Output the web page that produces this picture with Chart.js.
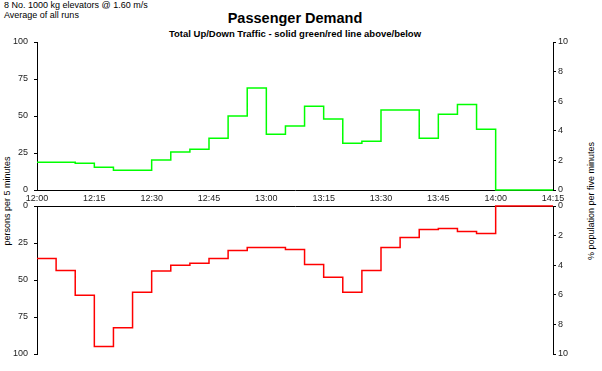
<!DOCTYPE html>
<html>
<head>
<meta charset="utf-8">
<script src="https://cdn.jsdelivr.net/npm/chart.js@4.4.0/dist/chart.umd.min.js"></script>
<style>
  body { margin: 0; background: #fff; }
  #wrap { position: relative; width: 602px; height: 371px; font-family: "Liberation Sans", Arial, sans-serif; color: #000; }
  canvas { position: absolute; left: 0; top: 0; }
  .txt { position: absolute; white-space: nowrap; }
  .rot { transform: translate(-50%, -50%) rotate(-90deg); }
</style>
</head>
<body>
<div id="wrap">
  <div class="txt" style="left:4px;top:0px;font-size:9px;line-height:10px">8 No. 1000 kg elevators @ 1.60 m/s<br>Average of all runs</div>
  <div class="txt" style="left:295px;top:10px;transform:translateX(-50%);font-size:14.5px;font-weight:bold">Passenger Demand</div>
  <div class="txt" style="left:295px;top:28px;transform:translateX(-50%);font-size:9.5px;font-weight:bold">Total Up/Down Traffic - solid green/red line above/below</div>
  <div class="txt rot" style="left:7px;top:201px;font-size:9px">persons per 5 minutes</div>
  <div class="txt rot" style="left:591px;top:201px;font-size:9px">% population per five minutes</div>
  <canvas id="upChart" width="602" height="371"></canvas>
  <canvas id="downChart" width="602" height="371"></canvas>
</div>
<script>
// 5-minute intervals starting 12:00 (minutes after 12:00)
const starts = [0, 5, 10, 15, 20, 25, 30, 35, 40, 45, 50, 55, 60, 65, 70, 75, 80, 85, 90, 95, 100, 105, 110, 115, 120, 125, 130];
// persons per 5 minutes
const upTraffic = [18.7, 18.7, 18, 15.3, 13.3, 13.3, 20.3, 25.7, 27.6, 35, 50, 69, 37.7, 43.3, 56.6, 47.9, 31.6, 33, 54, 54, 35, 51.2, 57.8, 41, 0, 0, 0];
const downTraffic = [35.4, 43.5, 60.3, 95, 82.3, 58.3, 44, 40.1, 38.6, 35.4, 30, 28, 28, 29.4, 39.5, 48.2, 58.3, 43.5, 28, 21.3, 15.9, 15.2, 17.3, 18.6, 0, 0, 0];
const endMinute = 135;
const personTicks = [0, 25, 50, 75, 100];
const percentTicks = [0, 2, 4, 6, 8, 10];

Chart.defaults.font.family = "'Liberation Sans', Arial, sans-serif";
Chart.defaults.font.size = 9;
Chart.defaults.color = "#000";

// step points: each interval value held until the next start
function stepPoints(vals) {
  const pts = starts.map((m, i) => ({ x: m, y: vals[i] }));
  pts.push({ x: endMinute, y: vals[vals.length - 1] });
  return pts;
}

function timeLabel(v) {
  const h = 12 + Math.floor(v / 60);
  const m = v % 60;
  return h + ":" + String(m).padStart(2, "0");
}

function yScale(pos, max, reverse, width) {
  return {
    type: "linear",
    position: pos,
    min: 0,
    max: max,
    reverse: reverse,
    afterFit: (s) => { s.width = width; },
    afterBuildTicks: (s) => {
      s.ticks = (max === 100 ? personTicks : percentTicks).map((v) => ({ value: v }));
    },
    grid: { display: true, drawOnChartArea: false, tickLength: 3, color: "#000" },
    border: { display: true, color: "#000", width: 1 },
    ticks: { padding: pos === "left" ? 6 : 2, color: "#222" },
  };
}

function makeChart(id, vals, colour, top) {
  const ctx = document.getElementById(id).getContext("2d");
  return new Chart(ctx, {
    type: "line",
    data: {
      datasets: [
        {
          data: stepPoints(vals),
          stepped: true,
          borderColor: colour,
          borderWidth: 1.5,
          pointRadius: 0,
          fill: false,
          clip: 4,
          yAxisID: "y",
        },
      ],
    },
    options: {
      responsive: false,
      animation: false,
      devicePixelRatio: 1,
      layout: { padding: top ? { top: 42, left: 0, right: 0, bottom: 0 } : { top: 0, left: 0, right: 0, bottom: 17 } },
      plugins: { legend: { display: false }, tooltip: { enabled: false } },
      scales: {
        x: {
          type: "linear",
          position: top ? "bottom" : "top",
          min: 0,
          max: endMinute,
          afterFit: (s) => { s.height = top ? 371 - 190 : 206; },
          grid: { display: false, drawTicks: false },
          border: { display: true, color: "#000", width: 1 },
          ticks: {
            display: top,
            stepSize: 15,
            maxRotation: 0,
            autoSkip: false,
            padding: 3,
            color: "#222",
            callback: (v) => timeLabel(v),
          },
        },
        y: yScale("left", 100, !top, 37),
        y1: yScale("right", 10, !top, 49),
      },
    },
  });
}

makeChart("upChart", upTraffic, "#00ff00", true);
makeChart("downChart", downTraffic, "#ff0000", false);
</script>
</body>
</html>
